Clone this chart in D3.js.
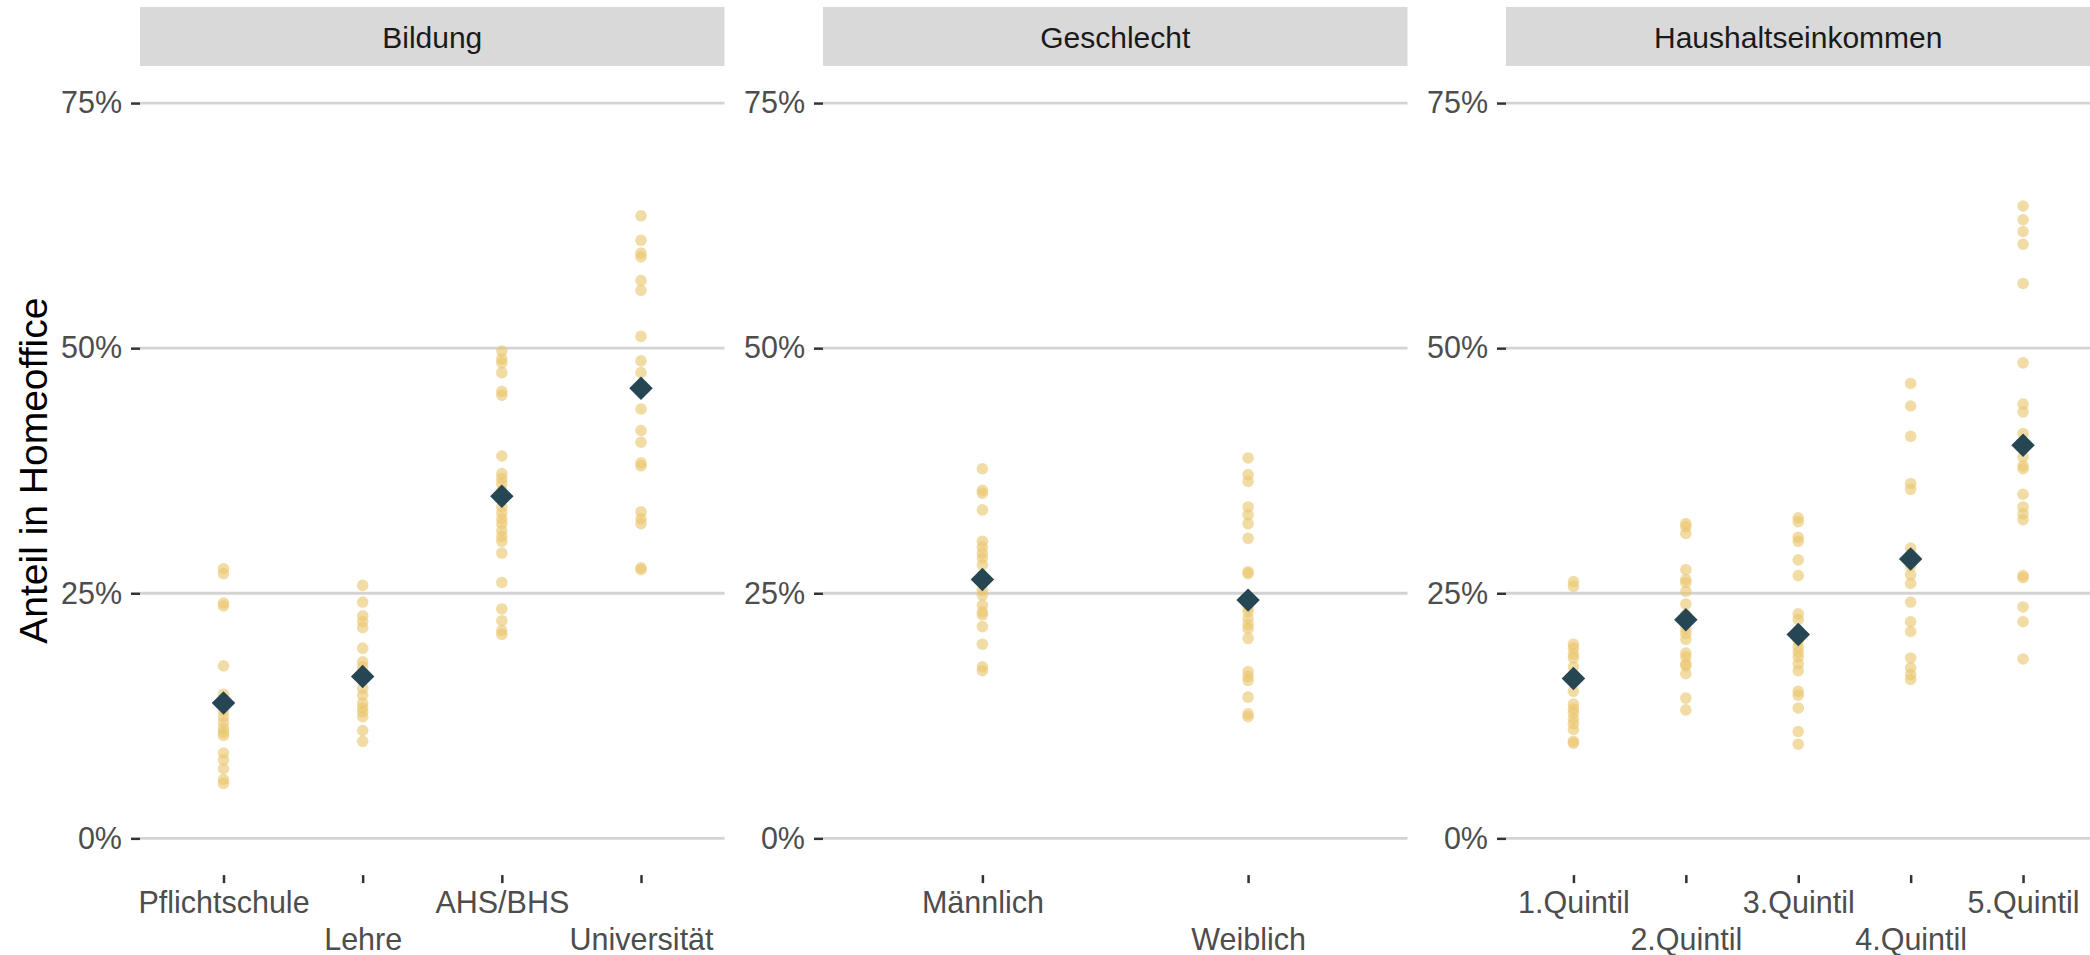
<!DOCTYPE html>
<html>
<head>
<meta charset="utf-8">
<script src="https://cdn.jsdelivr.net/npm/d3@7"></script>
<style>
  body { margin: 0; background: #ffffff; }
  svg { display: block; }
</style>
</head>
<body>
<svg id="chart" width="2090" height="955"></svg>
<script>
// Facet titles and y-axis ticks
const facetTitles = ["Bildung", "Geschlecht", "Haushaltseinkommen"];
const yTicks = [0, 25, 50, 75];

// Bildung (shares in %)
const bildungKategorien = ["Pflichtschule", "Lehre", "AHS/BHS", "Universität"];
const pflichtschule = [27.5, 27.0, 24.0, 23.7, 17.6, 14.7, 14.2, 13.0, 12.4, 11.8, 11.2, 10.8, 10.5, 8.7, 8.0, 7.1, 6.0, 5.6];
const lehre = [25.8, 24.1, 22.7, 22.1, 21.5, 19.4, 18.0, 17.5, 16.8, 15.3, 14.6, 13.8, 13.3, 12.9, 12.4, 11.0, 9.9];
const ahsBhs = [49.7, 48.9, 48.5, 47.5, 45.6, 45.2, 39.0, 37.2, 36.7, 36.2, 35.5, 33.8, 33.2, 32.6, 32.1, 31.4, 30.8, 30.3, 29.1, 26.1, 23.4, 22.2, 21.2, 20.8];
const universitaet = [63.5, 61.0, 59.7, 59.3, 56.9, 55.9, 51.2, 48.7, 47.5, 43.8, 41.6, 40.4, 38.3, 38.0, 33.3, 32.6, 32.1, 27.6, 27.4];
const bildungMittel = [13.8, 16.5, 34.9, 45.9];

// Geschlecht
const geschlechtKategorien = ["Männlich", "Weiblich"];
const maennlich = [37.7, 35.5, 35.2, 33.5, 30.3, 29.7, 29.1, 28.6, 27.9, 26.8, 25.3, 24.8, 23.8, 23.1, 22.8, 21.6, 19.8, 17.5, 17.1];
const weiblich = [38.8, 37.1, 36.4, 33.8, 33.0, 32.1, 30.6, 27.2, 27.0, 23.5, 23.1, 22.4, 21.8, 21.4, 20.4, 17.0, 16.5, 16.1, 14.4, 12.7, 12.4];
const geschlechtMittel = [26.4, 24.3];

// Haushaltseinkommen
const einkommenKategorien = ["1.Quintil", "2.Quintil", "3.Quintil", "4.Quintil", "5.Quintil"];
const quintil1 = [26.2, 25.7, 19.8, 19.4, 18.8, 18.4, 17.5, 16.7, 15.0, 13.7, 13.2, 12.8, 12.2, 11.7, 11.1, 9.9, 9.7];
const quintil2 = [32.1, 31.8, 31.1, 27.4, 26.4, 26.1, 25.2, 23.9, 22.8, 21.4, 20.9, 20.3, 18.9, 18.5, 17.8, 17.6, 16.8, 14.3, 13.1];
const quintil3 = [32.7, 32.3, 30.7, 30.3, 28.4, 26.8, 22.9, 22.3, 21.2, 20.1, 19.5, 19.0, 18.5, 17.8, 17.1, 15.0, 14.6, 13.3, 10.9, 9.6];
const quintil4 = [46.4, 44.1, 41.0, 36.2, 35.6, 29.6, 29.0, 27.8, 26.9, 26.0, 24.1, 22.1, 21.1, 18.4, 17.4, 16.7, 16.2];
const quintil5 = [64.5, 63.1, 61.9, 60.6, 56.6, 48.5, 44.3, 43.5, 41.3, 40.4, 38.9, 38.0, 37.7, 35.1, 33.8, 33.1, 32.5, 26.8, 26.6, 23.6, 22.1, 18.3];
const einkommenMittel = [16.3, 22.3, 20.8, 28.5, 40.1];

const panels = [
  { title: facetTitles[0], cats: bildungKategorien, values: [pflichtschule, lehre, ahsBhs, universitaet], means: bildungMittel },
  { title: facetTitles[1], cats: geschlechtKategorien, values: [maennlich, weiblich], means: geschlechtMittel },
  { title: facetTitles[2], cats: einkommenKategorien, values: [quintil1, quintil2, quintil3, quintil4, quintil5], means: einkommenMittel }
];

const font = "'Liberation Sans', Arial, Helvetica, sans-serif";
const svg = d3.select("#chart").attr("font-family", font);

const panelTop = 66.3, panelBottom = 875.1;
const panelLeft0 = 140, panelW = 584.5, panelGap = 98.5;
const pointColor = "#e9c46a", meanColor = "#264653";

const y = d3.scaleLinear().domain([-3.75, 78.75]).range([panelBottom, panelTop]);

// y-axis title
svg.append("text")
  .attr("transform", `translate(47,${(panelTop + panelBottom) / 2}) rotate(-90)`)
  .attr("text-anchor", "middle")
  .attr("font-size", 39)
  .attr("fill", "#000000")
  .text("Anteil in Homeoffice");

const diamond = d3.symbol().type(d3.symbolSquare).size(275);

panels.forEach((p, i) => {
  const left = panelLeft0 + i * (panelW + panelGap);
  const g = svg.append("g").attr("transform", `translate(${left},0)`);
  const x = d3.scalePoint().domain(p.cats).range([0, panelW]).padding(0.6);

  // strip header
  g.append("rect")
    .attr("x", 0).attr("y", 7)
    .attr("width", panelW).attr("height", 59)
    .attr("fill", "#d9d9d9");
  g.append("text")
    .attr("x", panelW / 2).attr("y", 48)
    .attr("text-anchor", "middle")
    .attr("font-size", 30)
    .attr("fill", "#1a1a1a")
    .text(p.title);

  // horizontal grid
  g.selectAll("line.grid").data(yTicks).join("line")
    .attr("class", "grid")
    .attr("x1", 0).attr("x2", panelW)
    .attr("y1", d => y(d)).attr("y2", d => y(d))
    .attr("stroke", "#d3d3d3").attr("stroke-width", 2.8);

  // y axis
  const ya = g.append("g")
    .call(d3.axisLeft(y).tickValues(yTicks).tickFormat(d => d + "%").tickSize(9).tickPadding(9));
  ya.select(".domain").remove();
  ya.attr("font-family", font).attr("font-size", null);
  ya.selectAll(".tick line").attr("stroke", "#333333").attr("stroke-width", 2.5);
  ya.selectAll(".tick text").attr("font-size", 30.5).attr("fill", "#4d4d4d");

  // x axis, labels staggered over two rows
  const xa = g.append("g")
    .attr("transform", `translate(0,${panelBottom})`)
    .call(d3.axisBottom(x).tickSize(8));
  xa.select(".domain").remove();
  xa.attr("font-family", font).attr("font-size", null);
  xa.selectAll(".tick line").attr("stroke", "#333333").attr("stroke-width", 2.5);
  xa.selectAll(".tick text")
    .attr("font-size", 30.5)
    .attr("fill", "#4d4d4d")
    .attr("y", (d, j) => (j % 2 === 0 ? 16 : 53));

  // individual values
  p.values.forEach((vals, j) => {
    g.append("g").selectAll("circle").data(vals).join("circle")
      .attr("cx", x(p.cats[j]))
      .attr("cy", d => y(d))
      .attr("r", 5.8)
      .attr("fill", pointColor)
      .attr("fill-opacity", 0.6);
  });

  // category means
  g.append("g").selectAll("path").data(p.means).join("path")
    .attr("d", diamond)
    .attr("transform", (d, j) => `translate(${x(p.cats[j])},${y(d)}) rotate(45)`)
    .attr("fill", meanColor);
});
</script>
</body>
</html>
